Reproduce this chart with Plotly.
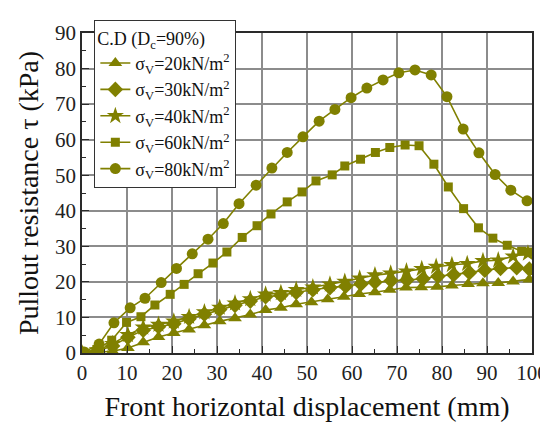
import plotly.graph_objects as go

# ---- data ----
x_20 = [0, 3.4, 6.8, 10.2, 13.6, 17, 20.4, 23.8, 27.2, 30.6, 34, 37.4, 40.8, 44.2, 47.6,
        51, 54.6, 58.2, 61.6, 65.1, 68.4, 72, 75.4, 78.9, 82.2, 85.8, 89.1, 92.5, 95.8, 99.4]
y_20 = [0, 0.2, 0.5, 1.4, 3.0, 4.5, 5.6, 6.6, 7.8, 8.9, 9.8, 10.8, 12.1, 12.7, 13.7,
        14.3, 15.1, 15.8, 16.6, 17.1, 17.8, 18.4, 18.5, 18.6, 19.0, 19.4, 19.6, 19.7, 20.1, 20.7]

x_30 = [0, 3.4, 6.8, 10.2, 13.6, 17, 20.4, 23.8, 27.2, 30.6, 34, 37.4, 40.8, 44.2, 47.6,
        51.3, 55.1, 58.6, 62, 65.1, 68.7, 72.2, 75.8, 79.1, 82.6, 86.1, 89.5, 93, 96.6, 99.4]
y_30 = [0, 0.5, 2.0, 4.4, 6.4, 7.4, 8.2, 9.6, 10.9, 12.2, 13.4, 14.6, 15.8, 16.2, 17.0,
        17.8, 18.4, 18.8, 19.4, 19.9, 20.3, 20.5, 20.9, 21.6, 22.0, 22.6, 23.3, 23.8, 24.0, 23.6]

x_40 = [0, 3.4, 6.8, 10.2, 13.6, 17, 20.4, 23.8, 27.2, 30.6, 34, 37.4, 40.8, 44.2, 47.6,
        51.3, 55.1, 58.4, 61.7, 65.1, 68.6, 72.1, 75.5, 78.7, 82.2, 85.6, 89.1, 92.5, 95.8, 99.1]
y_40 = [0, 0.8, 2.6, 5.1, 7.2, 8.0, 8.9, 10.2, 11.5, 12.8, 14.0, 15.2, 16.5, 16.9, 17.8,
        18.5, 19.3, 20.1, 21.0, 21.9, 22.4, 23.0, 23.7, 24.3, 24.8, 25.1, 25.9, 26.1, 27.2, 28.0]

x_60 = [0, 3.3, 6.6, 9.9, 13.1, 16.2, 19.6, 22.7, 25.8, 29.1, 32.2, 35.6, 38.9, 42, 45.6,
        48.9, 52, 55.6, 58.4, 61.9, 65.2, 68.4, 71.8, 74.9, 78.2, 81.4, 84.8, 88.1, 91.3, 94.5, 97.7, 99.4]
y_60 = [0, 1.0, 3.6, 8.6, 10.2, 13.5, 16.5, 19.3, 22.3, 25.3, 28.4, 32.5, 35.8, 39.1, 42.5,
        45.3, 48.4, 50.1, 52.6, 54.5, 56.4, 57.8, 58.5, 58.3, 53.1, 46.7, 40.6, 35.2, 32.3, 30.3, 28.6, 28.4]

x_80 = [0.5, 3.8, 7.1, 10.7, 14, 17.6, 21, 24.5, 28, 31.4, 34.9, 38.7, 42.2, 45.6, 49.1,
        52.7, 56.2, 59.8, 63.3, 66.9, 70.4, 74, 77.6, 81.1, 84.7, 88.2, 91.8, 95.3, 98.9]
y_80 = [0.3, 2.5, 8.5, 12.7, 15.4, 19.8, 23.8, 27.9, 32.0, 36.4, 42.0, 47.2, 52.0, 56.4, 60.8,
        65.2, 68.5, 71.8, 74.5, 76.8, 78.8, 79.6, 78.2, 72.1, 63.0, 56.3, 50.2, 45.8, 42.8]

series_names = ["σ<sub>V</sub>=20kN/m<sup>2</sup>", "σ<sub>V</sub>=30kN/m<sup>2</sup>",
                "σ<sub>V</sub>=40kN/m<sup>2</sup>", "σ<sub>V</sub>=60kN/m<sup>2</sup>",
                "σ<sub>V</sub>=80kN/m<sup>2</sup>"]
symbols = ["triangle-up", "diamond", "star", "square", "circle"]
sizes = [12, 12, 13, 9, 11]
xs = [x_20, x_30, x_40, x_60, x_80]
ys = [y_20, y_30, y_40, y_60, y_80]

olive = "#808000"
FONT = "Liberation Serif, Times New Roman, serif"

fig = go.Figure()
for name, sym, sz, xv, yv in zip(series_names, symbols, sizes, xs, ys):
    fig.add_trace(go.Scatter(
        x=xv, y=yv, name=name, mode="lines+markers",
        line=dict(color=olive, width=1.6),
        marker=dict(symbol=sym, size=sz, color=olive, line=dict(width=0)),
    ))

axis_common = dict(
    showline=True, linecolor="#2a2a2a", linewidth=1.8, mirror=True,
    showgrid=True, gridcolor="#8c8c8c", gridwidth=1.5,
    ticks="inside", ticklen=7, tickwidth=1.2, tickcolor="#2a2a2a",
    zeroline=False, automargin=False, ticklabeloverflow="allow",
    tickfont=dict(family=FONT, size=21, color="#222222"),
    minor=dict(ticks="inside", ticklen=4, tickwidth=1, tickcolor="#2a2a2a", showgrid=False),
)

fig.update_xaxes(range=[0, 100], dtick=10, minor_dtick=5,
                 title=dict(text="Front horizontal displacement (mm)",
                            font=dict(family=FONT, size=28, color="#111111"), standoff=12),
                 **axis_common)
fig.update_yaxes(range=[0, 90], dtick=10, minor_dtick=5,
                 title=dict(text="Pullout resistance τ (kPa)",
                            font=dict(family=FONT, size=28, color="#111111"), standoff=8),
                 **axis_common)

# the page body adds an 8px margin, so the figure is 540x415 placed at (8, 8)
fig.update_layout(
    width=540, height=415,
    margin=dict(l=74, r=16, t=18, b=70),
    paper_bgcolor="white", plot_bgcolor="white",
    font=dict(family=FONT, color="#111111"),
    showlegend=True,
    legend=dict(
        x=0.027, y=1.04, xanchor="left", yanchor="top",
        bgcolor="white", bordercolor="#333333", borderwidth=1.2,
        font=dict(family=FONT, size=18, color="#111111"),
        title=dict(text="C.D (D<sub>c</sub>=90%)", font=dict(family=FONT, size=18, color="#111111")),
        tracegroupgap=0, itemwidth=30,
    ),
)

fig.write_html("out.html")
